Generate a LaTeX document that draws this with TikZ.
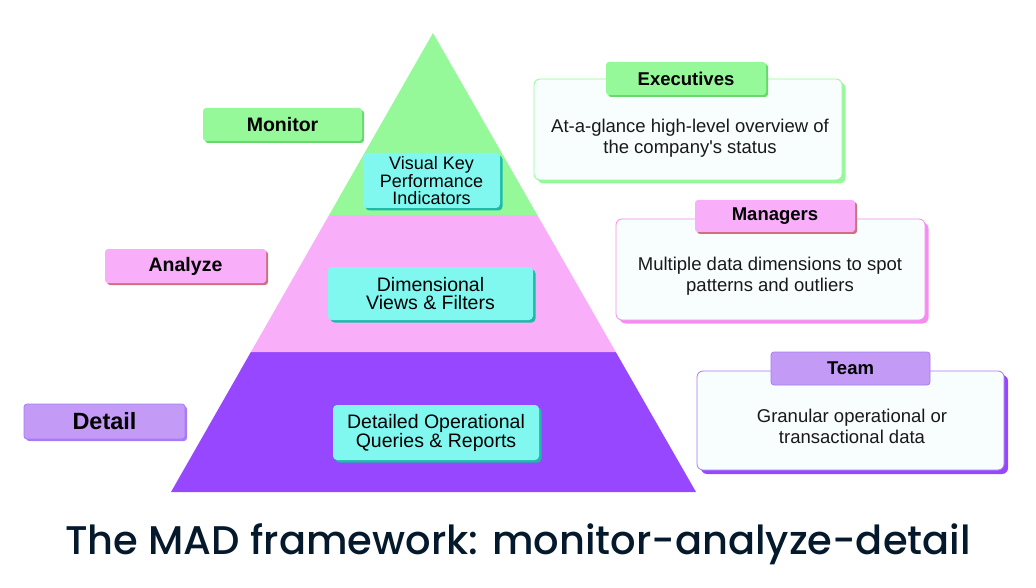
\documentclass[tikz,border=0pt]{standalone}
\usepackage{fontspec}
\setmainfont{Liberation Sans}[Ligatures=TeXOff]
\newfontfamily\titlefont{Poppins Medium}
\usetikzlibrary{shadows,calc}
\definecolor{pgreen}{HTML}{95F99A}
\definecolor{dgreen}{HTML}{66D86C}
\definecolor{ppink}{HTML}{F8AEF9}
\definecolor{dpink}{HTML}{D0707F}
\definecolor{spink}{HTML}{F48DF0}
\definecolor{ppurple}{HTML}{9747FF}
\definecolor{lpurple}{HTML}{C39BF6}
\definecolor{bpurple}{HTML}{A57CF5}
\definecolor{pcyan}{HTML}{80F8F0}
\definecolor{dcyan}{HTML}{1EB9AB}
\definecolor{cardfill}{HTML}{F8FDFD}
\definecolor{titlecol}{HTML}{05192D}
\tikzset{
  lab/.style={rounded corners=3pt, font=\bfseries\fontsize{18.5}{20}\selectfont, text=black, inner sep=0pt, align=center},
  inbox/.style={rounded corners=4pt, fill=pcyan, inner sep=0pt, align=center, font=\fontsize{19.5}{18}\selectfont,
     drop shadow={shadow xshift=2.5pt, shadow yshift=-2.5pt, fill=dcyan, opacity=1}},
  card/.style={rounded corners=6pt, fill=cardfill, line width=0.8pt, inner sep=0pt},
  cardtxt/.style={font=\fontsize{18.5}{21}\selectfont, align=center, text=black!90},
}
\begin{document}
\begin{tikzpicture}[x=1pt,y=-1pt]
\useasboundingbox (0,0) rectangle (1036,588);
% pyramid
\coordinate (apex) at (433,33);
\coordinate (bl) at (171,492);
\coordinate (br) at (696,492);
\coordinate (l1) at ($(apex)!0.6950!(bl)$);
\coordinate (r1) at ($(apex)!0.6950!(br)$);
\coordinate (l2) at ($(apex)!0.3965!(bl)$);
\coordinate (r2) at ($(apex)!0.3965!(br)$);
\fill[ppurple] (bl) -- (br) -- (r1) -- (l1) -- cycle;
\fill[ppink] (l1) -- (r1) -- (r2) -- (l2) -- cycle;
\fill[pgreen] (l2) -- (r2) -- (apex) -- cycle;

% inner boxes
\node[inbox, minimum width=137pt, minimum height=55pt, font=\fontsize{18}{16.5}\selectfont] (vkp) at (431.5,180.5) {Visual Key\\Performance\\Indicators};
\node[inbox, minimum width=205pt, minimum height=53pt, font=\fontsize{19.5}{18}\selectfont] (dim) at (430.5,293.5) {Dimensional\\Views \& Filters};
\node[inbox, minimum width=206pt, minimum height=55pt, font=\fontsize{19.5}{19}\selectfont] (det) at (436,432.5) {Detailed Operational\\Queries \& Reports};

% left labels
\node[lab, fill=pgreen, minimum width=159pt, minimum height=33pt, font=\bfseries\fontsize{19.5}{20}\selectfont,
  drop shadow={shadow xshift=2pt, shadow yshift=-2pt, fill=dgreen, opacity=1}] (mon) at (282.5,124.5) {Monitor};
\node[lab, fill=ppink, minimum width=161pt, minimum height=34pt, font=\bfseries\fontsize{19.5}{20}\selectfont,
  drop shadow={shadow xshift=2pt, shadow yshift=-2pt, fill=dpink, opacity=1}] (ana) at (185.5,266) {Analyze};
\node[lab, fill=lpurple, draw=bpurple, line width=0.8pt, minimum width=161pt, minimum height=35pt, font=\bfseries\fontsize{23.5}{24}\selectfont,
  drop shadow={shadow xshift=2pt, shadow yshift=-2pt, fill=bpurple, opacity=1}] (dtl) at (104.5,421.5) {Detail};

% cards
\node[card, draw=pgreen, minimum width=308pt, minimum height=101pt,
  drop shadow={shadow xshift=3.5pt, shadow yshift=-3.5pt, fill=pgreen, opacity=1}] (exc) at (688,129.5) {};
\node[lab, fill=pgreen, minimum width=160pt, minimum height=33pt,
  drop shadow={shadow xshift=2pt, shadow yshift=-2pt, fill=dgreen, opacity=1}] (exl) at (686,78.5) {Executives};
\node[cardtxt] (ext) at (690,138) {At-a-glance high-level overview of\\the company's status};

\node[card, draw=spink, minimum width=309pt, minimum height=101pt,
  drop shadow={shadow xshift=3.5pt, shadow yshift=-3.5pt, fill=spink, opacity=1}] (mgc) at (770.5,269.5) {};
\node[lab, fill=ppink, minimum width=160pt, minimum height=32pt,
  drop shadow={shadow xshift=2pt, shadow yshift=-2pt, fill=dpink, opacity=1}] (mgl) at (775,216) {Managers};
\node[cardtxt] (mgt) at (770,276) {Multiple data dimensions to spot\\patterns and outliers};

\node[card, draw=bpurple, minimum width=307pt, minimum height=99pt,
  drop shadow={shadow xshift=4pt, shadow yshift=-4pt, fill=ppurple, opacity=1}] (tmc) at (850.5,420.5) {};
\node[lab, fill=lpurple, draw=bpurple, line width=0.8pt, minimum width=159pt, minimum height=33pt] (tml) at (850.5,368.5) {Team};
\node[cardtxt] (tmt) at (852,426) {Granular operational or\\transactional data};

% title
\node[anchor=base, text=titlecol, font=\titlefont\fontsize{40}{46}\selectfont, inner sep=0pt] (ttl) at (518,554) {The MAD framework: monitor-analyze-detail};
\end{tikzpicture}
\end{document}
